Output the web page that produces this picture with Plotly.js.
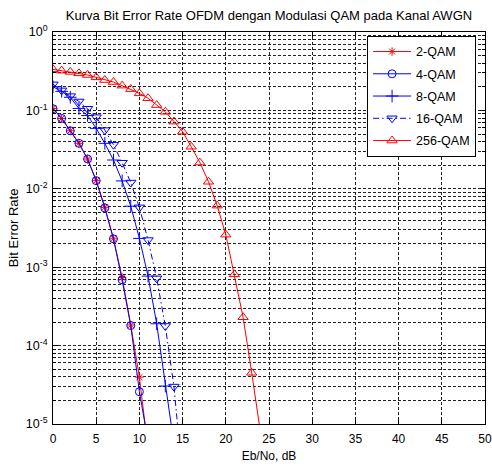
<!DOCTYPE html>
<html>
<head>
<meta charset="utf-8">
<script src="https://cdn.plot.ly/plotly-3.0.1.min.js"></script>
<style>html,body{margin:0;padding:0;background:#fff;}#chart{width:492px;height:466px;}</style>
</head>
<body>
<div id="chart"></div>
<script>
// Eb/No (dB) per series
const ebno2 = [0,1,2,3,4,5,6,7,8,9,10,11];
const ebno4 = [0,1,2,3,4,5,6,7,8,9,10,11];
const ebno8 = [0,1,2,3,4,5,6,7,8,9,10,11,12,13,14];
const ebno16 = [0,1,2,3,4,5,6,7,8,9,10,11,12,13,14,15];
const ebno256 = [0,1,2,3,4,5,6,7,8,9,10,11,12,13,14,15,16,17,18,19,20,21,22,23,24];

// Bit error rates
const ber2QAM = [0.106,0.079,0.055,0.038,0.024,0.0127,0.0058,0.0023,0.00074,0.000183,0.0000396,0.0000048];
const ber4QAM = [0.105,0.079,0.055,0.038,0.024,0.0127,0.0057,0.0023,0.00069,0.000180,0.0000258,0.000006];
const ber8QAM = [0.2,0.175,0.147,0.106,0.086,0.059,0.038,0.0233,0.0126,0.006,0.00233,0.00077,0.00019,0.0000305,0.0000056];
const ber16QAM = [0.215,0.18,0.152,0.13,0.105,0.082,0.056,0.0365,0.0215,0.012,0.0058,0.00222,0.00072,0.000178,0.00003,0.000002];
const ber256QAM = [0.334,0.321,0.31,0.297,0.283,0.264,0.244,0.23,0.207,0.187,0.165,0.143,0.117,0.096,0.072,0.0535,0.0344,0.0216,0.0123,0.0061,0.0026,0.00081,0.00023,0.000045,0.000008];

const seriesNames = ['2-QAM','4-QAM','8-QAM','16-QAM','256-QAM'];

// Axis tick labels
const xTickVals = [0,5,10,15,20,25,30,35,40,45,50];
const yTickVals = [1e-5,1e-4,1e-3,1e-2,1e-1,1];
const yTickText = ['10<sup>-5</sup>','10<sup>-4</sup>','10<sup>-3</sup>','10<sup>-2</sup>','10<sup>-1</sup>','10<sup>0</sup>'];

const titleText = 'Kurva Bit Error Rate OFDM dengan Modulasi QAM pada Kanal AWGN';
const xTitle = 'Eb/No, dB';
const yTitle = 'Bit Error Rate';

const FONT = 'Liberation Sans, Arial, sans-serif';
const RED = 'rgb(255,0,0)';
const BLUE = 'rgb(0,0,255)';

function tr(x, y, name, color, dash, symbol, size, grp) {
  return {
    x: x, y: y, name: name, type: 'scatter', mode: 'lines+markers',
    legendgroup: grp,
    line: {color: color, width: 1, dash: dash},
    marker: {symbol: symbol, size: size, color: color, line: {color: color, width: 1}},
    cliponaxis: true
  };
}

const data = [
  tr(ebno2, ber2QAM, seriesNames[0], RED, 'solid', 'asterisk-open', 7, 'g1'),
  tr(ebno4, ber4QAM, seriesNames[1], BLUE, 'solid', 'circle-open', 8, 'g2'),
  tr(ebno8, ber8QAM, seriesNames[2], BLUE, 'solid', 'cross-thin-open', 9, 'g3'),
  tr(ebno16, ber16QAM, seriesNames[3], BLUE, '6px,3px,1.5px,3px', 'triangle-down-open', 9, 'g4'),
  tr(ebno256, ber256QAM, seriesNames[4], RED, 'solid', 'triangle-up-open', 9, 'g5')
];

const layout = {
  width: 492, height: 466,
  margin: {l: 53, r: 7, t: 32, b: 42, pad: 0},
  paper_bgcolor: '#fff', plot_bgcolor: '#fff',
  font: {family: FONT, size: 12, color: '#000'},
  title: {text: titleText, font: {family: FONT, size: 13, color: '#000'},
          x: 0.5, xref: 'paper', xanchor: 'center', y: 1 - 15/466, yref: 'container', yanchor: 'middle'},
  showlegend: true,
  legend: {x: 0.727, y: 0.99, xanchor: 'left', yanchor: 'top', bgcolor: '#fff',
           bordercolor: '#000', borderwidth: 1, font: {family: FONT, size: 12.5, color: '#000'},
           traceorder: 'grouped', tracegroupgap: 3, itemwidth: 38},
  xaxis: {
    range: [0, 50], tickmode: 'array', tickvals: xTickVals,
    showgrid: true, gridcolor: '#222', griddash: '3px,2px', gridwidth: 1,
    zeroline: false, showline: true, linecolor: '#000', linewidth: 1, mirror: 'ticks',
    ticks: 'inside', ticklen: 5, tickcolor: '#000', ticklabelstandoff: 4,
    tickfont: {family: FONT, size: 12, color: '#000'},
    title: {text: xTitle, font: {family: FONT, size: 12, color: '#000'}, standoff: 6},
    automargin: false
  },
  yaxis: {
    type: 'log', range: [-5, 0], tickmode: 'array', tickvals: yTickVals, ticktext: yTickText,
    showgrid: true, gridcolor: '#222', griddash: '3px,2px', gridwidth: 1,
    zeroline: false, showline: true, linecolor: '#000', linewidth: 1, mirror: 'ticks',
    ticks: 'inside', ticklen: 5, tickcolor: '#000', ticklabelstandoff: 2,
    tickfont: {family: FONT, size: 12.5, color: '#000'},
    title: {text: yTitle, font: {family: FONT, size: 13, color: '#000'}, standoff: 4},
    automargin: false,
    minor: {dtick: 'D1', ticks: 'inside', ticklen: 3, tickcolor: '#000', showgrid: true,
            gridcolor: '#222', griddash: '3px,2px', gridwidth: 1}
  }
};

Plotly.newPlot('chart', data, layout, {displayModeBar: false, staticPlot: true});
</script>
</body>
</html>
